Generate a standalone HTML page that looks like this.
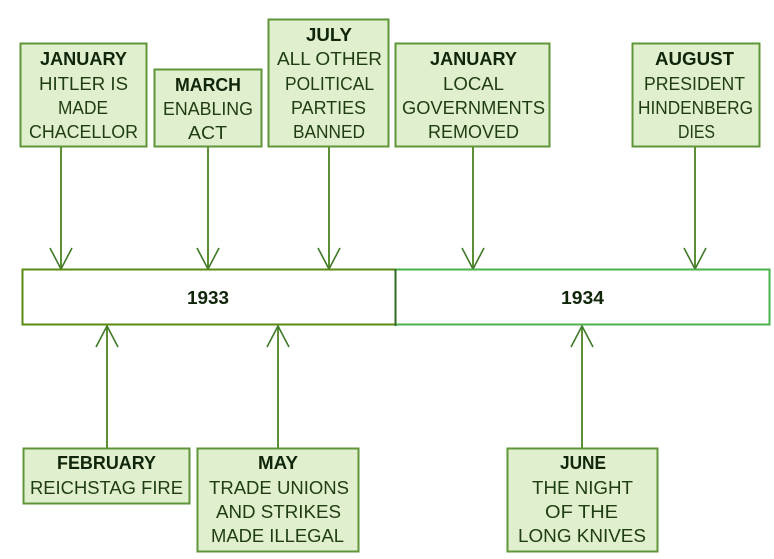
<!DOCTYPE html>
<html>
<head>
<meta charset="utf-8">
<style>
html,body{margin:0;padding:0;background:#fff;}
svg{display:block;}
text{font-family:"Liberation Sans",sans-serif;font-size:18px;fill:#1f3d12;}
.b{font-weight:bold;fill:#10260a;}
.box{fill:#e0efcd;stroke:#5f9438;stroke-width:2;}
.ln{fill:none;stroke:#5c8f36;stroke-width:2;}
.ar{fill:none;stroke:#3f7a28;stroke-width:1.6;}
</style>
</head>
<body>
<svg width="774" height="559" viewBox="0 0 774 559" xmlns="http://www.w3.org/2000/svg">
<rect width="774" height="559" fill="#fff"/>

<!-- connectors -->
<path class="ln" d="M61 147V268M208 147V268M329 147V268M473 147V268M695 147V268M107 326V448M278 326V448M582 326V448"/>
<path class="ar" d="M50 248L61 269L72 248M197 248L208 269L219 248M318 248L329 269L340 248M462 248L473 269L484 248M684 248L695 269L706 248"/>
<path class="ar" d="M96 347L107 326L118 347M267 347L278 326L289 347M571 347L582 326L593 347"/>

<!-- timeline -->
<rect x="22.5" y="269.5" width="373" height="55" fill="#fff" stroke="#5a8a12" stroke-width="2"/>
<rect x="395.5" y="269.5" width="374" height="55" fill="#fff" stroke="#4cb04c" stroke-width="2"/>
<path d="M395.5 269V326" stroke="#2f6a22" stroke-width="2"/>
<text class="b" x="187" y="304" textLength="42" lengthAdjust="spacingAndGlyphs">1933</text>
<text class="b" x="561" y="304" textLength="43" lengthAdjust="spacingAndGlyphs">1934</text>

<!-- boxes -->
<rect class="box" x="20.5" y="43.5" width="126" height="103"/>
<rect class="box" x="154.5" y="69.5" width="107" height="77"/>
<rect class="box" x="268.5" y="19.5" width="120" height="127"/>
<rect class="box" x="395.5" y="43.5" width="154" height="103"/>
<rect class="box" x="632.5" y="43.5" width="127" height="103"/>
<rect class="box" x="23.5" y="448.5" width="166" height="55"/>
<rect class="box" x="197.5" y="448.5" width="161" height="103"/>
<rect class="box" x="507.5" y="448.5" width="150" height="103"/>

<!-- labels -->
<g lengthAdjust="spacingAndGlyphs">
<text class="b" x="40" y="65" textLength="87" lengthAdjust="spacingAndGlyphs">JANUARY</text>
<text x="39" y="90" textLength="89" lengthAdjust="spacingAndGlyphs">HITLER IS</text>
<text x="58" y="114" textLength="50" lengthAdjust="spacingAndGlyphs">MADE</text>
<text x="29" y="138" textLength="109" lengthAdjust="spacingAndGlyphs">CHACELLOR</text>

<text class="b" x="175" y="91" textLength="66" lengthAdjust="spacingAndGlyphs">MARCH</text>
<text x="163" y="115" textLength="90" lengthAdjust="spacingAndGlyphs">ENABLING</text>
<text x="188" y="139" textLength="39" lengthAdjust="spacingAndGlyphs">ACT</text>

<text class="b" x="306" y="41" textLength="46" lengthAdjust="spacingAndGlyphs">JULY</text>
<text x="277" y="65" textLength="105" lengthAdjust="spacingAndGlyphs">ALL OTHER</text>
<text x="285" y="90" textLength="89" lengthAdjust="spacingAndGlyphs">POLITICAL</text>
<text x="291" y="114" textLength="75" lengthAdjust="spacingAndGlyphs">PARTIES</text>
<text x="293" y="138" textLength="72" lengthAdjust="spacingAndGlyphs">BANNED</text>

<text class="b" x="430" y="65" textLength="87" lengthAdjust="spacingAndGlyphs">JANUARY</text>
<text x="443" y="90" textLength="61" lengthAdjust="spacingAndGlyphs">LOCAL</text>
<text x="402" y="114" textLength="143" lengthAdjust="spacingAndGlyphs">GOVERNMENTS</text>
<text x="428" y="138" textLength="91" lengthAdjust="spacingAndGlyphs">REMOVED</text>

<text class="b" x="655" y="65" textLength="79" lengthAdjust="spacingAndGlyphs">AUGUST</text>
<text x="644" y="90" textLength="101" lengthAdjust="spacingAndGlyphs">PRESIDENT</text>
<text x="638" y="114" textLength="115" lengthAdjust="spacingAndGlyphs">HINDENBERG</text>
<text x="678" y="138" textLength="37" lengthAdjust="spacingAndGlyphs">DIES</text>

<text class="b" x="57" y="469" textLength="99" lengthAdjust="spacingAndGlyphs">FEBRUARY</text>
<text x="30" y="494" textLength="153" lengthAdjust="spacingAndGlyphs">REICHSTAG FIRE</text>

<text class="b" x="258" y="469" textLength="40" lengthAdjust="spacingAndGlyphs">MAY</text>
<text x="209" y="494" textLength="140" lengthAdjust="spacingAndGlyphs">TRADE UNIONS</text>
<text x="216" y="518" textLength="125" lengthAdjust="spacingAndGlyphs">AND STRIKES</text>
<text x="211" y="542" textLength="133" lengthAdjust="spacingAndGlyphs">MADE ILLEGAL</text>

<text class="b" x="560" y="469" textLength="46" lengthAdjust="spacingAndGlyphs">JUNE</text>
<text x="532" y="494" textLength="101" lengthAdjust="spacingAndGlyphs">THE NIGHT</text>
<text x="545" y="518" textLength="73" lengthAdjust="spacingAndGlyphs">OF THE</text>
<text x="518" y="542" textLength="128" lengthAdjust="spacingAndGlyphs">LONG KNIVES</text>
</g>
</svg>
</body>
</html>
